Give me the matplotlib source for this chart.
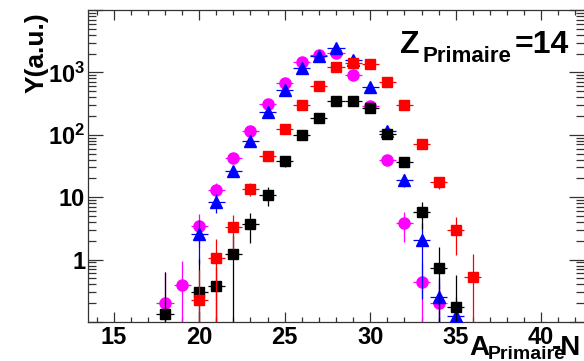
import matplotlib
matplotlib.use("Agg")
import matplotlib.pyplot as plt
from matplotlib.ticker import FixedLocator, LogLocator, MultipleLocator, NullFormatter

plt.rcParams["font.family"] = ["Liberation Sans", "DejaVu Sans"]
plt.rcParams["font.weight"] = "bold"
plt.rcParams["mathtext.fontset"] = "custom"
plt.rcParams["mathtext.rm"] = "Liberation Sans:bold"
plt.rcParams["mathtext.bf"] = "Liberation Sans:bold"
plt.rcParams["mathtext.it"] = "Liberation Sans:bold"

# yields per A-N bin, one list per series
a_mag = [18, 19, 20, 21, 22, 23, 24, 25, 26, 27, 28, 29, 30, 31, 32, 33, 34]
y_mag = [0.20, 0.39, 3.5, 13, 43, 114, 316, 670, 1470, 1900, 2050, 915, 290, 40, 3.84, 0.44, 0.20]
e_mag = [0.44, 0.56, 1.9, 3.8, 7, 11, 18, 26, 38, 44, 45, 30, 17, 6, 1.95, 0.44, 0.20]

a_blue = [20, 21, 22, 23, 24, 25, 26, 27, 28, 29, 30, 31, 32, 33, 34, 35]
y_blue = [2.6, 8.3, 26.5, 79, 230, 530, 1170, 1830, 2450, 1600, 590, 115, 19, 2.03, 0.25, 0.124]
e_blue = [1.74, 2.8, 5, 9, 15, 23, 34, 43, 50, 40, 24, 10, 4.3, 1.8, 0.25, 0.124]

a_black = [18, 20, 21, 22, 23, 24, 25, 26, 27, 28, 29, 30, 31, 32, 33, 34, 35]
y_black = [0.134, 0.305, 0.376, 1.25, 3.74, 11.0, 38, 101, 187, 345, 345, 270, 104, 37, 5.75, 0.74, 0.172]
e_black = [0.5, 0.7, 0.38, 1.25, 1.9, 3.7, 7, 11, 15, 20, 20, 17, 10, 6, 2.6, 0.85, 0.39]

a_red = [20, 21, 22, 23, 24, 25, 26, 27, 28, 29, 30, 31, 32, 33, 34, 35, 36]
y_red = [0.225, 1.07, 3.3, 13.5, 46, 122, 305, 600, 1210, 1410, 1380, 690, 295, 70, 17.3, 3.0, 0.52]
e_red = [0.45, 1.07, 1.8, 3.1, 6, 10, 17, 24, 35, 37, 37, 26, 17, 8, 4, 1.8, 0.73]

series = [
    (a_mag, y_mag, e_mag, "o", "#ff00ff", 8.0),
    (a_blue, y_blue, e_blue, "^", "#0000ff", 8.5),
    (a_black, y_black, e_black, "s", "black", 7.7),
    (a_red, y_red, e_red, "s", "#ff0000", 7.7),
]

W, H = 584, 361
fig = plt.figure(figsize=(W / 100, H / 100), dpi=100)
ax = fig.add_axes([88 / W, 39 / H, 496 / W, 312 / H])

for i, (a, y, e, m, c, ms) in enumerate(series):
    ax.errorbar(a, y, yerr=e, xerr=0.5, fmt=m, color=c, ms=ms, mec=c,
                elinewidth=0.9, capsize=0, zorder=3 + i)

ax.set_yscale("log")
ax.set_xlim(13.5, 42.5)
ax.set_ylim(0.1, 1e4)

ax.xaxis.set_major_locator(MultipleLocator(5))
ax.xaxis.set_minor_locator(MultipleLocator(1))
ax.yaxis.set_major_locator(FixedLocator([0.1, 1, 10, 100, 1000, 10000]))
ax.set_yticklabels(["", "1", "10", "$10^{2}$", "$10^{3}$", ""])
ax.yaxis.set_minor_locator(LogLocator(base=10, subs=range(2, 10)))
ax.yaxis.set_minor_formatter(NullFormatter())

ax.tick_params(axis="both", which="both", direction="in", top=True, right=True,
               color="#333333", width=0.9, labelsize=17)
ax.tick_params(axis="x", which="major", length=7, pad=3)
ax.tick_params(axis="x", which="minor", length=3.5)
ax.tick_params(axis="y", which="major", length=11, pad=2)
ax.tick_params(axis="y", which="minor", length=5.5)
for side in ["left", "top", "bottom"]:
    ax.spines[side].set_color("#333333")
    ax.spines[side].set_linewidth(0.9)
ax.spines["right"].set_visible(False)


def put(x, y, s, size, **kw):
    # place text by pixel position, y measured from the top edge
    fig.text(x / W, 1 - y / H, s, fontsize=size, ha="left", va="baseline", **kw)


# axis titles and the charge label
fig.text(37 / W, 1 - 12 / H, "Y(a.u.)", rotation=90, ha="center", va="top",
         fontsize=19)
put(469, 355, "A", 20)
put(488, 359, "Primaire", 14)
put(552, 355, "-N", 20)
put(400, 53, "Z", 23)
put(423, 62, "Primaire", 16)
put(515, 53, "=14", 23)

fig.savefig("out.png", dpi=100)
